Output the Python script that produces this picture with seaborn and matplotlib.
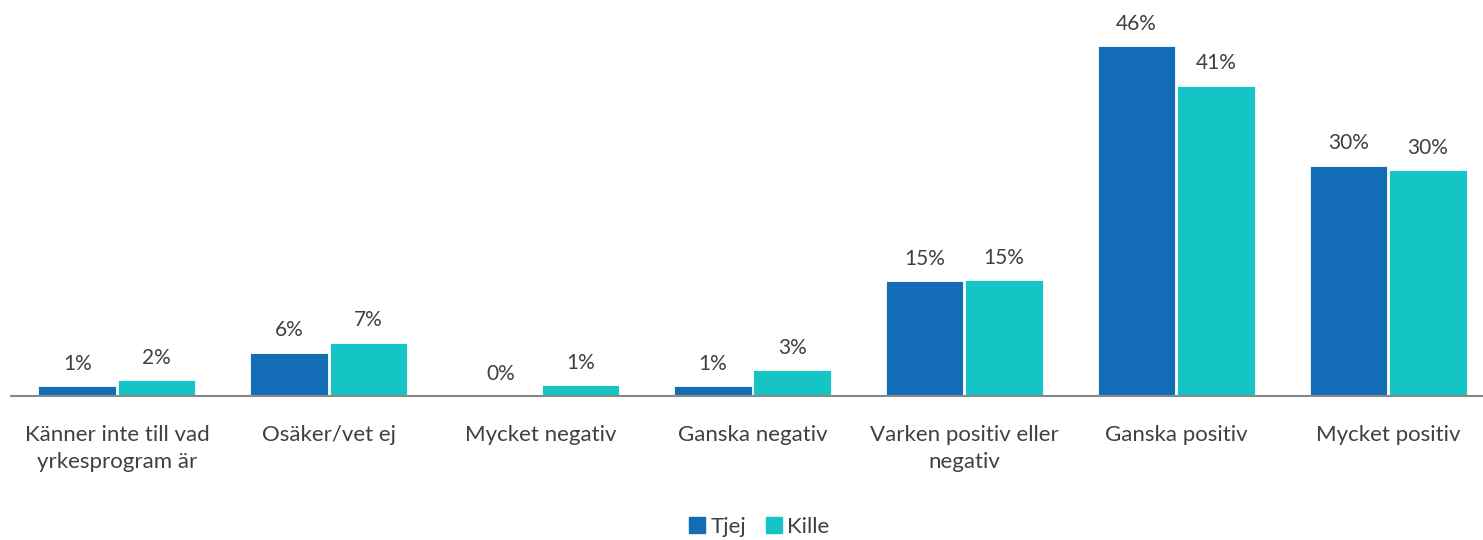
import numpy as np
import pandas as pd
import matplotlib
matplotlib.use('Agg')
import matplotlib.pyplot as plt
import seaborn as sns

# data (percent)
categories = ['Känner inte till vad\nyrkesprogram är', 'Osäker/vet ej', 'Mycket negativ',
              'Ganska negativ', 'Varken positiv eller\nnegativ', 'Ganska positiv', 'Mycket positiv']
tjej = [1.3, 5.7, 0.0, 1.3, 15.1, 46.0, 30.3]
kille = [2.1, 7.0, 1.4, 3.4, 15.2, 40.8, 29.7]
groups = ['Tjej', 'Kille']
colors = ['#136DB6', '#15C4C4']

df = pd.DataFrame({
    'kategori': categories * 2,
    'andel': tjej + kille,
    'kon': ['Tjej'] * len(categories) + ['Kille'] * len(categories),
})

sns.set_theme(style='white')
plt.rcParams['font.family'] = ['Lato', 'DejaVu Sans']
txt = '#404040'

fig = plt.figure(figsize=(14.83, 5.4), dpi=100)
# axis runs slightly past the right edge, like the original
ax = fig.add_axes([11 / 1483, 144 / 540, 1.0, 396 / 540])

sns.barplot(data=df, x='kategori', y='andel', hue='kon', hue_order=groups,
            palette=colors, width=0.75, gap=0.025, ax=ax, legend=True,
            edgecolor='white', linewidth=0.6, saturation=1)

for cont in ax.containers:
    ax.bar_label(cont, fmt='%.0f%%', padding=9, fontsize=15, color=txt)

ax.set_ylim(0, 52.1)
ax.set_xlim(-0.5, len(categories) - 0.5)
ax.set_xlabel('')
ax.set_ylabel('')
ax.set_yticks([])
for s in ['top', 'right', 'left']:
    ax.spines[s].set_visible(False)
ax.spines['bottom'].set_color('#888888')
ax.spines['bottom'].set_linewidth(1.5)
ax.tick_params(axis='x', length=0, pad=21, labelsize=16, labelcolor=txt)
for lab in ax.get_xticklabels():
    lab.set_linespacing(1.45)
    lab.set_verticalalignment('top')

ax.get_legend().remove()
handles = [plt.Rectangle((0, 0), 1, 1, color=c) for c in colors]
fig.legend(handles, groups, loc='center', bbox_to_anchor=(0.512, 0.024), ncol=2,
           frameon=False, fontsize=16, labelcolor=txt, handlelength=0.7,
           handleheight=0.7, handletextpad=0.25, columnspacing=0.9)

fig.savefig('out.png', dpi=100)
